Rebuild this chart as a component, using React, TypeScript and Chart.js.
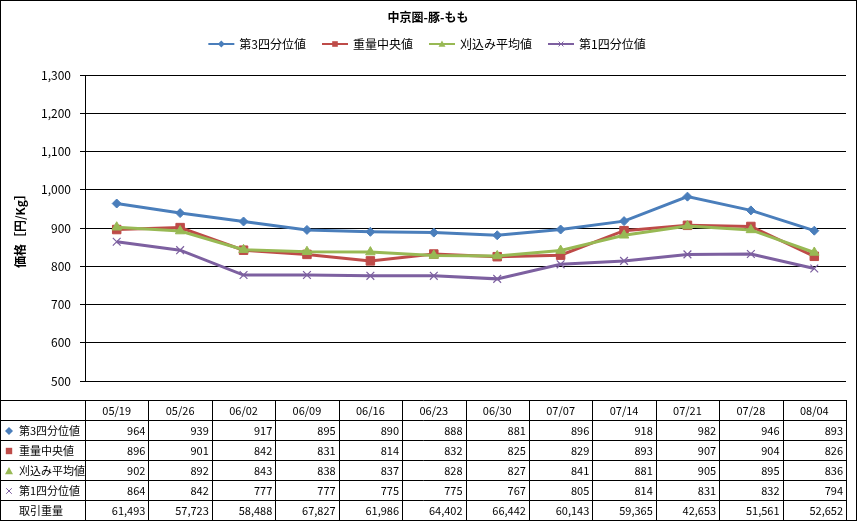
import React, { useEffect, useRef } from 'react';
import { Chart, registerables } from 'chart.js';

Chart.register(...registerables);

// --- data ---
const CATEGORIES = ['05/19', '05/26', '06/02', '06/09', '06/16', '06/23', '06/30', '07/07', '07/14', '07/21', '07/28', '08/04'];
const SERIES_NAMES = ['第3四分位値', '重量中央値', '刈込み平均値', '第1四分位値'];
const Q3_VALUES = [964, 939, 917, 895, 890, 888, 881, 896, 918, 982, 946, 893];
const MEDIAN_VALUES = [896, 901, 842, 831, 814, 832, 825, 829, 893, 907, 904, 826];
const TRIMMED_VALUES = [902, 892, 843, 838, 837, 828, 827, 841, 881, 905, 895, 836];
const Q1_VALUES = [864, 842, 777, 777, 775, 775, 767, 805, 814, 831, 832, 794];
const WEIGHT_LABEL = '取引重量';
const WEIGHT_VALUES = [61493, 57723, 58488, 67827, 61986, 64402, 66442, 60143, 59365, 42653, 51561, 52652];
const Y_MIN = 500;
const Y_MAX = 1300;
const Y_STEP = 100;

const TITLE = '中京圏-豚-もも';
const Y_TITLE = '価格［円/Kg］';

const COLORS = ['#4A7EBB', '#BE4B48', '#98B954', '#7D60A0'];
const MARKERS = ['diamond', 'square', 'triangle', 'cross'];
const FONT = '"Noto Sans CJK JP", "Noto Sans", sans-serif';

const W = 857;
const H = 521;
const TABLE_TOP = 400;
const ROW_H = 20;

const fmt = (v: number) => v.toLocaleString('en-US');

// small marker painter, used by legend and table
function drawMarker(ctx: CanvasRenderingContext2D, kind: string, color: string, x: number, y: number, s: number) {
  ctx.save();
  ctx.fillStyle = color;
  ctx.strokeStyle = color;
  ctx.lineWidth = 1;
  ctx.beginPath();
  if (kind === 'diamond') {
    ctx.moveTo(x, y - s);
    ctx.lineTo(x + s, y);
    ctx.lineTo(x, y + s);
    ctx.lineTo(x - s, y);
    ctx.closePath();
    ctx.fill();
  } else if (kind === 'square') {
    ctx.rect(x - s * 0.8, y - s * 0.8, s * 1.6, s * 1.6);
    ctx.fill();
  } else if (kind === 'triangle') {
    ctx.moveTo(x, y - s);
    ctx.lineTo(x + s, y + s * 0.8);
    ctx.lineTo(x - s, y + s * 0.8);
    ctx.closePath();
    ctx.fill();
  } else {
    const d = s * 0.7;
    ctx.moveTo(x - d, y - d);
    ctx.lineTo(x + d, y + d);
    ctx.moveTo(x + d, y - d);
    ctx.lineTo(x - d, y + d);
    ctx.stroke();
  }
  ctx.restore();
}

// title + legend + data table + frame
const decorPlugin = {
  id: 'decor',
  afterDraw(chart: any) {
    const { ctx } = chart;
    const x = chart.scales.x;
    ctx.save();

    // title
    ctx.fillStyle = '#000';
    ctx.font = `bold 12px ${FONT}`;
    ctx.textAlign = 'center';
    ctx.textBaseline = 'middle';
    ctx.fillText(TITLE, 428, 17);

    // legend
    ctx.font = `12px ${FONT}`;
    ctx.textAlign = 'left';
    const lineLen = 26;
    const gap = 16;
    const widths = SERIES_NAMES.map((n) => lineLen + 5 + ctx.measureText(n).width);
    const total = widths.reduce((a, b) => a + b, 0) + gap * (widths.length - 1);
    let lx = 427 - total / 2;
    const ly = 44;
    SERIES_NAMES.forEach((name, i) => {
      ctx.strokeStyle = COLORS[i];
      ctx.lineWidth = 2;
      ctx.beginPath();
      ctx.moveTo(lx, ly);
      ctx.lineTo(lx + lineLen, ly);
      ctx.stroke();
      drawMarker(ctx, MARKERS[i], COLORS[i], lx + lineLen / 2, ly, 3.5);
      ctx.fillStyle = '#000';
      ctx.fillText(name, lx + lineLen + 5, ly);
      lx += widths[i] + gap;
    });

    // data table
    const n = CATEGORIES.length;
    const colW = (x.right - x.left) / n;
    const right = Math.round(x.right) + 0.5;
    ctx.strokeStyle = '#000';
    ctx.lineWidth = 1;
    ctx.beginPath();
    for (let r = 0; r <= 6; r++) {
      const yy = TABLE_TOP + r * ROW_H + 0.5;
      ctx.moveTo(0, yy);
      ctx.lineTo(right, yy);
    }
    for (let c = 0; c <= n; c++) {
      const xx = Math.round(x.left + c * colW) + 0.5;
      ctx.moveTo(xx, TABLE_TOP);
      ctx.lineTo(xx, TABLE_TOP + 6 * ROW_H);
    }
    ctx.stroke();

    ctx.font = `11px ${FONT}`;
    ctx.fillStyle = '#000';
    ctx.textBaseline = 'middle';
    CATEGORIES.forEach((c, i) => {
      ctx.textAlign = 'center';
      ctx.fillText(c, x.getPixelForValue(i), TABLE_TOP + ROW_H / 2 + 1);
    });
    const rows = [Q3_VALUES, MEDIAN_VALUES, TRIMMED_VALUES, Q1_VALUES, WEIGHT_VALUES];
    const labels = [...SERIES_NAMES, WEIGHT_LABEL];
    rows.forEach((vals, r) => {
      const cy = TABLE_TOP + (r + 1) * ROW_H + ROW_H / 2 + 1;
      if (r < 4) drawMarker(ctx, MARKERS[r], COLORS[r], 9, cy, 4);
      ctx.fillStyle = '#000';
      ctx.textAlign = 'left';
      ctx.fillText(labels[r], 19, cy);
      ctx.textAlign = 'right';
      vals.forEach((v, i) => {
        ctx.fillText(fmt(v), x.left + (i + 1) * colW - 3, cy);
      });
    });

    // outer frame
    ctx.strokeRect(0.5, 0.5, W - 1, H - 1);
    ctx.restore();
  },
};

export default function App() {
  const canvasRef = useRef<HTMLCanvasElement | null>(null);

  useEffect(() => {
    if (!canvasRef.current) return;
    const series = [Q3_VALUES, MEDIAN_VALUES, TRIMMED_VALUES, Q1_VALUES];
    const pointStyles = ['rectRot', 'rect', 'triangle', 'crossRot'];
    const radii = [4.5, 6, 5.5, 5.5];

    const chart = new Chart(canvasRef.current, {
      type: 'line',
      data: {
        labels: CATEGORIES,
        datasets: series.map((data, i) => ({
          label: SERIES_NAMES[i],
          data,
          borderColor: COLORS[i],
          backgroundColor: COLORS[i],
          borderWidth: 3,
          pointStyle: pointStyles[i],
          pointRadius: radii[i],
          pointBorderWidth: i === 3 ? 1.2 : 1,
          pointBackgroundColor: COLORS[i],
          pointBorderColor: COLORS[i],
          tension: 0,
          order: 4 - i,
        })),
      },
      options: {
        responsive: false,
        animation: false,
        layout: { padding: { top: 75, left: 0, right: W - 846, bottom: 0 } },
        plugins: {
          legend: { display: false },
          title: { display: false },
          tooltip: { enabled: false },
        },
        scales: {
          x: {
            offset: true,
            ticks: { display: false },
            grid: { display: false },
            border: { display: false },
            afterFit: (scale: any) => {
              scale.height = H - 381;
            },
          },
          y: {
            min: Y_MIN,
            max: Y_MAX,
            ticks: {
              stepSize: Y_STEP,
              color: '#000',
              padding: 9,
              font: { family: FONT, size: 12 },
              callback: (v: any) => fmt(Number(v)),
            },
            grid: { color: '#000', lineWidth: 1, tickLength: 5, tickColor: '#000' },
            border: { display: true, color: '#000', width: 1 },
            title: {
              display: true,
              text: Y_TITLE,
              color: '#000',
              font: { family: FONT, size: 12, weight: 'bold' },
              padding: { top: 13, bottom: 0 },
            },
            afterFit: (scale: any) => {
              scale.width = 85;
            },
          },
        },
      },
      plugins: [decorPlugin],
    } as any);

    return () => chart.destroy();
  }, []);

  return (
    <div style={{ position: 'absolute', left: 0, top: 0, width: W, height: H, background: '#fff' }}>
      <canvas ref={canvasRef} width={W} height={H} />
    </div>
  );
}
